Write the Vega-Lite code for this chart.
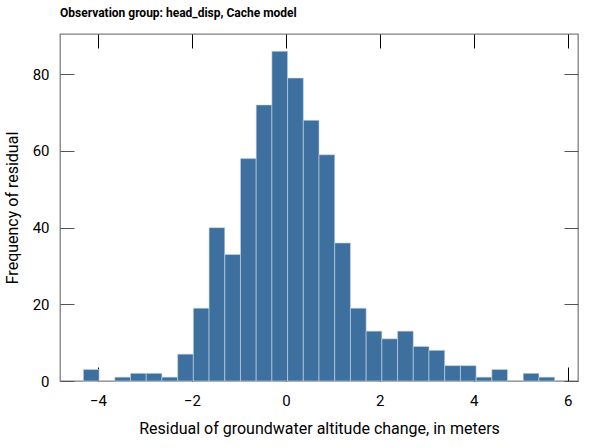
{
  "$schema": "https://vega.github.io/schema/vega-lite/v6.json",
  "width": 518,
  "height": 347,
  "autosize": {"type": "none"},
  "padding": {"left": 60, "top": 34, "right": 24, "bottom": 67},
  "background": "white",
  "title": {
    "text": "Observation group: head_disp, Cache model",
    "anchor": "start",
    "frame": "group",
    "fontSize": 12,
    "fontWeight": "bold",
    "font": "Liberation Sans Narrow, Roboto, sans-serif",
    "color": "black",
    "offset": 14
  },
  "data": {
    "values": [
      {"bin_start": -4.312, "bin_end": -3.9775, "count": 3},
      {"bin_start": -3.643, "bin_end": -3.3085, "count": 1},
      {"bin_start": -3.3085, "bin_end": -2.974, "count": 2},
      {"bin_start": -2.974, "bin_end": -2.6395, "count": 2},
      {"bin_start": -2.6395, "bin_end": -2.305, "count": 1},
      {"bin_start": -2.305, "bin_end": -1.9705, "count": 7},
      {"bin_start": -1.9705, "bin_end": -1.636, "count": 19},
      {"bin_start": -1.636, "bin_end": -1.3015, "count": 40},
      {"bin_start": -1.3015, "bin_end": -0.967, "count": 33},
      {"bin_start": -0.967, "bin_end": -0.6325, "count": 58},
      {"bin_start": -0.6325, "bin_end": -0.298, "count": 72},
      {"bin_start": -0.298, "bin_end": 0.0365, "count": 86},
      {"bin_start": 0.0365, "bin_end": 0.371, "count": 79},
      {"bin_start": 0.371, "bin_end": 0.7055, "count": 68},
      {"bin_start": 0.7055, "bin_end": 1.04, "count": 59},
      {"bin_start": 1.04, "bin_end": 1.3745, "count": 36},
      {"bin_start": 1.3745, "bin_end": 1.709, "count": 19},
      {"bin_start": 1.709, "bin_end": 2.0435, "count": 13},
      {"bin_start": 2.0435, "bin_end": 2.378, "count": 11},
      {"bin_start": 2.378, "bin_end": 2.7125, "count": 13},
      {"bin_start": 2.7125, "bin_end": 3.047, "count": 9},
      {"bin_start": 3.047, "bin_end": 3.3815, "count": 8},
      {"bin_start": 3.3815, "bin_end": 3.716, "count": 4},
      {"bin_start": 3.716, "bin_end": 4.0505, "count": 4},
      {"bin_start": 4.0505, "bin_end": 4.385, "count": 1},
      {"bin_start": 4.385, "bin_end": 4.7195, "count": 3},
      {"bin_start": 5.054, "bin_end": 5.3885, "count": 2},
      {"bin_start": 5.3885, "bin_end": 5.723, "count": 1}
    ]
  },
  "config": {
    "view": {"stroke": "#808080", "strokeWidth": 1.3},
    "axis": {
      "labelFont": "Liberation Sans Narrow, Roboto, sans-serif",
      "titleFont": "Liberation Sans Narrow, Roboto, sans-serif",
      "labelFontSize": 15,
      "titleFontSize": 16,
      "titleFontWeight": "normal",
      "labelColor": "black",
      "titleColor": "black",
      "domain": false,
      "grid": false,
      "tickSize": -14,
      "tickWidth": 1,
      "zindex": 1
    }
  },
  "layer": [
    {
      "mark": {"type": "bar", "color": "#3d6f9f", "stroke": "#c9d7e6", "strokeWidth": 0.6},
      "encoding": {
        "x": {
          "field": "bin_start",
          "type": "quantitative",
          "scale": {"domain": [-4.81, 6.22], "nice": false, "zero": false},
          "axis": {
            "title": "Residual of groundwater altitude change, in meters",
            "values": [-4, -2, 0, 2, 4, 6],
            "tickColor": "black",
            "labelPadding": 26,
            "titlePadding": 12
          }
        },
        "x2": {"field": "bin_end"},
        "y": {
          "field": "count",
          "type": "quantitative",
          "scale": {"domain": [0, 90.5], "nice": false},
          "axis": {
            "title": "Frequency of residual",
            "values": [0, 20, 40, 60, 80],
            "tickColor": "#555555",
            "labelPadding": 25,
            "titlePadding": 12
          }
        },
        "y2": {"datum": 0}
      }
    },
    {
      "mark": {"type": "bar", "opacity": 0},
      "encoding": {
        "x": {
          "field": "bin_start",
          "type": "quantitative",
          "scale": {"domain": [-4.81, 6.22], "nice": false, "zero": false},
          "axis": {"orient": "top", "title": null, "labels": false, "values": [-4, -2, 0, 2, 4, 6], "tickColor": "black"}
        },
        "x2": {"field": "bin_end"},
        "y": {
          "field": "count",
          "type": "quantitative",
          "scale": {"domain": [0, 90.5], "nice": false},
          "axis": {"orient": "right", "title": null, "labels": false, "values": [0, 20, 40, 60, 80], "tickColor": "#555555"}
        },
        "y2": {"datum": 0}
      }
    }
  ],
  "resolve": {"axis": {"x": "independent", "y": "independent"}}
}
